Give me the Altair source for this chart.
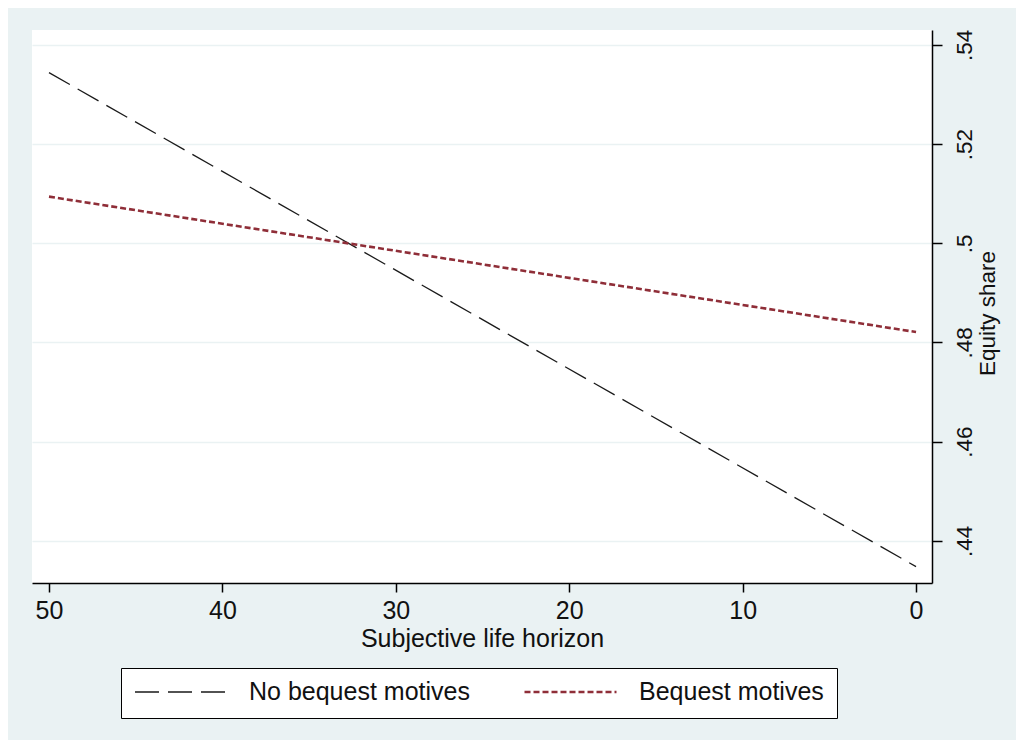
import altair as alt
import pandas as pd

# Data
horizon = [50, 0]
no_bequest = [0.5344, 0.4348]
bequest = [0.5094, 0.4821]
series_names = ["No bequest motives", "Bequest motives"]
x_ticks = [0, 10, 20, 30, 40, 50]
y_ticks = [0.44, 0.46, 0.48, 0.50, 0.52, 0.54]

rows = []
for name, vals in zip(series_names, [no_bequest, bequest]):
    for h, v in zip(horizon, vals):
        rows.append({"horizon": h, "share": v, "series": name})
df = pd.DataFrame(rows)

FONT = "Liberation Sans"
BG = "#EAF2F3"

legend = alt.Legend(
    title=None,
    orient="none",
    legendX=89,
    legendY=638,
    direction="horizontal",
    symbolType="stroke",
    symbolSize=8464,
    clipHeight=22,
    labelFont=FONT,
    labelFontSize=25,
    labelColor="#111111",
    labelOffset=21,
    columnPadding=53,
    padding=13,
    strokeColor="#000000",
    fillColor="#FFFFFF",
    labelLimit=400,
)

chart = alt.Chart(df).mark_line(clip=True).encode(
    x=alt.X(
        "horizon:Q",
        scale=alt.Scale(domain=[-0.92, 50.98], reverse=True, nice=False, zero=False),
        axis=alt.Axis(
            values=x_ticks,
            format="d",
            title="Subjective life horizon",
            grid=False,
            tickSize=9,
            labelPadding=6,
            titlePadding=3,
            labelFontSize=25,
            titleFontSize=25,
        ),
    ),
    y=alt.Y(
        "share:Q",
        scale=alt.Scale(domain=[0.4315, 0.543], nice=False, zero=False),
        axis=alt.Axis(
            orient="right",
            values=y_ticks,
            title="Equity share",
            grid=True,
            tickSize=10,
            labelAngle=270,
            labelAlign="center",
            labelBaseline="middle",
            labelPadding=22,
            labelFontSize=22.5,
            titleFontSize=22.5,
            labelExpr="substring(format(datum.value, '.2~f'), 1)",
            titleAngle=270,
            titleX=55,
            titleY=283,
            titleAlign="center",
            titleBaseline="middle",
        ),
    ),
    color=alt.Color(
        "series:N",
        scale=alt.Scale(domain=series_names, range=["#1a1a1a", "#8f2e38"]),
        legend=legend,
    ),
    strokeDash=alt.StrokeDash(
        "series:N",
        scale=alt.Scale(domain=series_names, range=[[24, 9], [6, 3]]),
        legend=legend,
    ),
    strokeWidth=alt.StrokeWidth(
        "series:N",
        scale=alt.Scale(domain=series_names, range=[1.3, 2.6]),
        legend=legend,
    ),
).properties(
    width=900,
    height=553,
    autosize=alt.AutoSizeParams(type="none"),
    padding={"left": 24, "top": 22, "right": 84, "bottom": 157},
    background=BG,
).configure_view(
    fill="#FFFFFF",
    stroke=None,
).configure_axis(
    labelFont=FONT,
    titleFont=FONT,
    labelColor="#111111",
    titleColor="#111111",
    titleFontWeight="normal",
    domainColor="#000000",
    domainWidth=1.5,
    tickColor="#000000",
    tickWidth=1.5,
    gridColor=BG,
    gridWidth=1.5,
)

chart.save("out.html", embed_options={"renderer": "svg", "actions": False})
